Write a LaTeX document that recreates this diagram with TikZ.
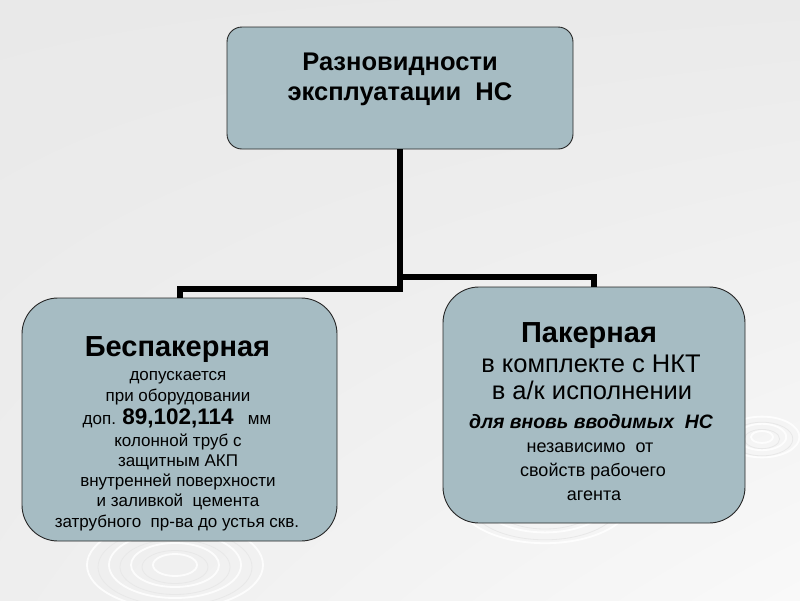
\documentclass[tikz,border=0pt]{standalone}
\usepackage{fontspec}
\setmainfont{Liberation Sans}
\usetikzlibrary{shadings}
\begin{document}
\begin{tikzpicture}[x=1pt,y=-1pt,
  box/.style={draw=black!85,line width=0.9pt,fill=boxfill},
  conn/.style={line width=6pt,draw=black},
  txt/.style={anchor=base,inner sep=0pt,text=black}]
\definecolor{boxfill}{RGB}{166,188,195}
\definecolor{bgul}{RGB}{233,233,233}
\definecolor{bgur}{RGB}{234,234,234}
\definecolor{bgll}{RGB}{238,238,238}
\definecolor{bglr}{RGB}{249,249,249}
\useasboundingbox (0,0) rectangle (800,600);
% background
\shade[upper left=bgul,upper right=bgur,lower left=bgll,lower right=bglr] (0,0) rectangle (800,600);
\begin{scope}[draw=white,line width=1.8pt,opacity=0.85]
  \foreach \r in {20,40,60,80} {\draw (175,565) ellipse ({\r*1.1} and {\r*0.55});}
  \foreach \r in {18,36,54,72} {\draw (545,500) ellipse ({\r*1.2} and {\r*0.6});}
  \foreach \r in {10,22,34} {\draw (762,437) ellipse ({\r*1.1} and {\r*0.6});}
\end{scope}
\begin{scope}[draw=black!9,line width=0.8pt]
  \foreach \r in {30,50,70} {\draw (175,567) ellipse ({\r*1.1} and {\r*0.55});}
  \foreach \r in {27,45,63} {\draw (545,502) ellipse ({\r*1.2} and {\r*0.6});}
  \foreach \r in {16,28} {\draw (762,439) ellipse ({\r*1.1} and {\r*0.6});}
\end{scope}
% boxes
\node[box,rounded corners=15pt,minimum width=346pt,minimum height=122pt] (top) at (400,88) {};
\node[box,rounded corners=36pt,minimum width=315pt,minimum height=243pt] (left) at (179.5,419.5) {};
\node[box,rounded corners=36pt,minimum width=302pt,minimum height=236pt] (right) at (594,405) {};
% connectors
\coordinate (jl) at (400,289);
\coordinate (jr) at (400,277);
\draw[conn] (top.south) -- (jl) -| (left.north);
\draw[conn] (jr) -| (right.north);
% top text
\node[txt,font=\fontsize{25.5}{29}\selectfont\bfseries] (t1) at (400,70) {Разновидности};
\node[txt,font=\fontsize{25.5}{29}\selectfont\bfseries] (t2) at (400,100) {эксплуатации\ \ НС};
% left text
\node[txt,font=\fontsize{29}{33}\selectfont\bfseries] (l1) at (177.5,356) {Беспакерная};
\node[txt,font=\fontsize{17}{20}\selectfont] (l2) at (178,380) {допускается};
\node[txt,font=\fontsize{17}{20}\selectfont] (l3) at (178,401) {при оборудовании};
\node[txt,font=\fontsize{17}{20}\selectfont] (l4) at (177,424) {доп. {\fontsize{22.5}{26}\selectfont\bfseries 89,102,114}\ \ \ мм};
\node[txt,font=\fontsize{17}{20}\selectfont] (l5) at (178,446) {колонной труб с};
\node[txt,font=\fontsize{17}{20}\selectfont] (l6) at (178,466) {защитным АКП};
\node[txt,font=\fontsize{17}{20}\selectfont] (l7) at (178,486) {внутренней поверхности};
\node[txt,font=\fontsize{17}{20}\selectfont] (l8) at (178,506) {и заливкой\ \ цемента};
\node[txt,font=\fontsize{17}{20}\selectfont] (l9) at (177,527) {затрубного\ \ пр-ва до устья скв.};
% right text
\node[txt,font=\fontsize{29}{33}\selectfont\bfseries] (r1) at (589,342) {Пакерная};
\node[txt,font=\fontsize{25.5}{29}\selectfont] (r2) at (591,372) {в комплекте с НКТ};
\node[txt,font=\fontsize{25.5}{29}\selectfont] (r3) at (592,399) {в а/к исполнении};
\node[txt,font=\fontsize{19.4}{23}\selectfont\bfseries\itshape] (r4) at (591,428) {для вновь вводимых\ \ НС};
\node[txt,font=\fontsize{18}{21}\selectfont] (r5) at (590,452) {независимо\ \ от};
\node[txt,font=\fontsize{18}{21}\selectfont] (r6) at (593,476) {свойств рабочего};
\node[txt,font=\fontsize{18}{21}\selectfont] (r7) at (594,500) {агента};
\end{tikzpicture}
\end{document}
